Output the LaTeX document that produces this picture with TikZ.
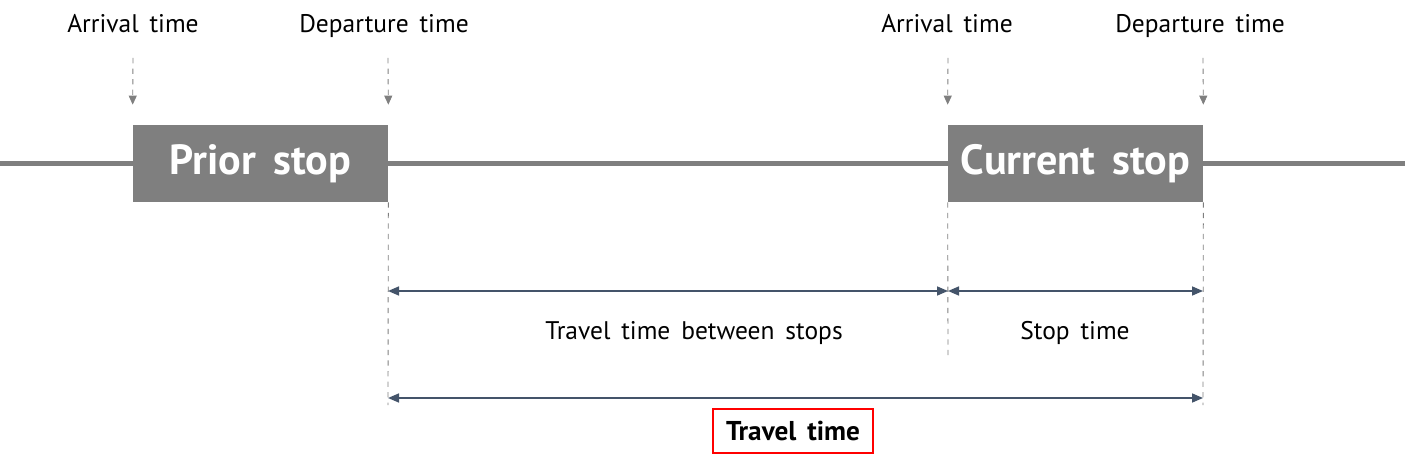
\documentclass[tikz,border=0pt]{standalone}
\usepackage{fontspec}
\setmainfont{PT Sans}[WordSpace=1.6]
\usepackage{tikz}
\usetikzlibrary{arrows.meta,positioning}
\definecolor{stopgray}{HTML}{7F7F7F}
\definecolor{dimblue}{HTML}{44546A}

\begin{document}
\begin{tikzpicture}[x=0.02cm,y=-0.02cm]
\tikzstyle{stopbox}=[rectangle,fill=stopgray,text=white,font=\fontsize{24}{28}\selectfont\bfseries,minimum width=5.1cm,minimum height=1.54cm,inner sep=0pt]
\tikzstyle{timelabel}=[font=\fontsize{14.5}{17}\selectfont,inner sep=1pt]
\tikzstyle{road}=[draw=stopgray,line width=2.3pt]
\tikzstyle{pointer}=[draw=stopgray,dashed,line width=0.5pt,-{Triangle[length=1.8mm,width=1.6mm]}]
\tikzstyle{guide}=[draw=stopgray,dashed,line width=0.5pt]
\tikzstyle{span}=[draw=dimblue,line width=0.9pt,{Triangle[length=2.2mm,width=1.8mm]}-{Triangle[length=2.2mm,width=1.8mm]}]
\useasboundingbox (0,0) rectangle (1405,462);

\node [stopbox] (prior) at (260.5,163.5) {Prior stop};
\node [stopbox] (current) at (1075.5,163.5) {Current stop};

\coordinate (west) at (0,163.5);
\coordinate (east) at (1405,163.5);
\path[road] (west) -- (prior.west);
\path[road] (prior.east) -- (current.west);
\path[road] (current.east) -- (east);

% labels above the stops
\node [timelabel,anchor=base] (arrprior) at (133,33) {Arrival time};
\node [timelabel,anchor=base] (depprior) at (384,33) {Departure time};
\node [timelabel,anchor=base] (arrcurrent) at (947,33) {Arrival time};
\node [timelabel,anchor=base] (depcurrent) at (1200,33) {Departure time};

\coordinate (p1) at (133,58);
\coordinate (p2) at (388,58);
\coordinate (p3) at (948,58);
\coordinate (p4) at (1203,58);
\path[pointer] (p1) -- ([yshift=0.4cm]prior.north west);
\path[pointer] (p2) -- ([yshift=0.4cm]prior.north east);
\path[pointer] (p3) -- ([yshift=0.4cm]current.north west);
\path[pointer] (p4) -- ([yshift=0.4cm]current.north east);

% guides below
\coordinate (g1) at (388,405);
\coordinate (g2) at (948,358);
\coordinate (g3) at (1203,405);
\path[guide] (prior.south east) -- (g1);
\path[guide] (current.south west) -- (g2);
\path[guide] (current.south east) -- (g3);

\coordinate (s1) at (388,291);
\coordinate (s2) at (948,291);
\coordinate (s3) at (1203,291);
\coordinate (t1) at (388,398);
\coordinate (t2) at (1203,398);
\path[span] (s1) -- (s2);
\path[span] (s2) -- (s3);
\path[span] (t1) -- (t2);

\node [timelabel,anchor=base] (between) at (694,339) {Travel time between stops};
\node [timelabel,anchor=base] (stoptime) at (1075,339) {Stop time};
\node [draw=red,line width=1.1pt,minimum width=3.2cm,minimum height=0.88cm,inner sep=1pt,font=\fontsize{15.5}{18}\selectfont\bfseries] (travel) at (793,431) {Travel time};
\end{tikzpicture}
\end{document}
